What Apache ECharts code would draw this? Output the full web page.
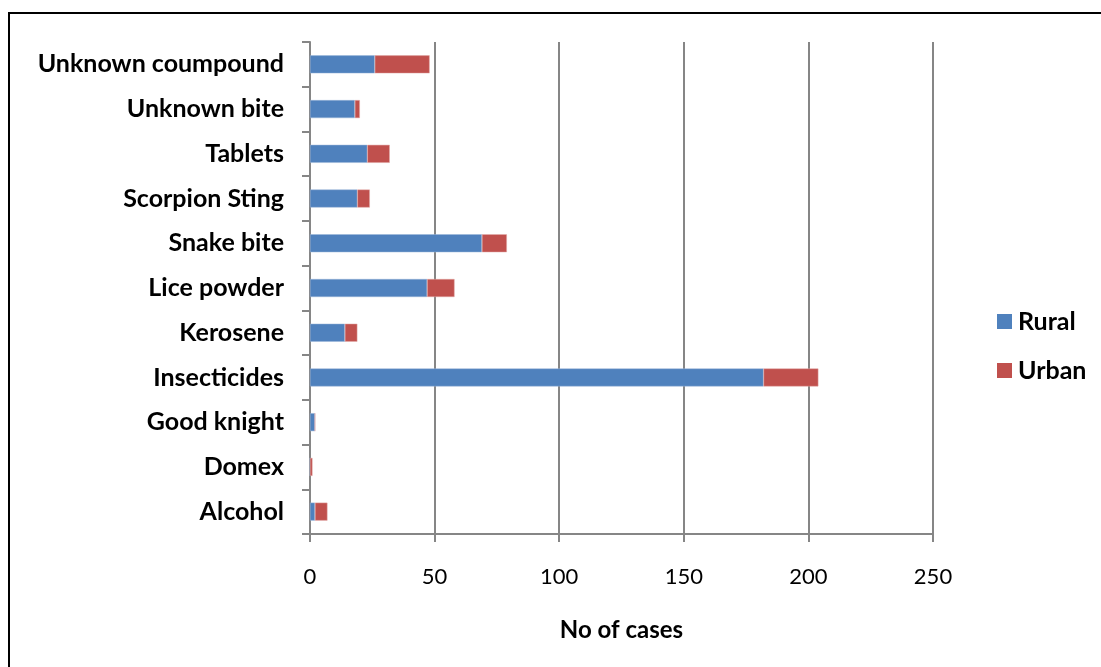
<!DOCTYPE html>
<html>
<head>
<meta charset="utf-8">
<script src="https://cdn.jsdelivr.net/npm/echarts@6/dist/echarts.min.js"></script>
<style>
  html, body { margin: 0; padding: 0; background: #fff; overflow: hidden; }
  #frame { position: absolute; left: 8px; top: 12px; width: 1300px; height: 900px; border: 2px solid #000; box-sizing: border-box; }
  #chart { position: absolute; left: 0; top: 0; width: 1101px; height: 667px; }
</style>
</head>
<body>
<div id="frame"></div>
<div id="chart"></div>
<script>
// Poisoning cases by agent, listed bottom to top
const categories = ['Alcohol', 'Domex', 'Good knight', 'Insecticides', 'Kerosene', 'Lice powder',
  'Snake bite', 'Scorpion Sting', 'Tablets', 'Unknown bite', 'Unknown coumpound'];
const rural = [2, 0, 2, 182, 14, 47, 69, 19, 23, 18, 26];
const urban = [5, 1, 0, 22, 5, 11, 10, 5, 9, 2, 22];
const xTicks = [0, 50, 100, 150, 200, 250];

const chart = echarts.init(document.getElementById('chart'), null, { renderer: 'canvas' });
const font = 'Lato, "DejaVu Sans", sans-serif';

chart.setOption({
  animation: false,
  grid: { left: 310, top: 42, width: 623, height: 492, containLabel: false },
  legend: {
    orient: 'vertical',
    left: 997,
    top: 309,
    padding: 0,
    itemWidth: 15,
    itemHeight: 15,
    itemGap: 24,
    icon: 'rect',
    data: ['Rural', 'Urban'],
    itemStyle: { borderWidth: 0 },
    textStyle: { fontFamily: font, fontWeight: 'bold', fontSize: 25, color: '#000', padding: [0, 0, 0, 1] }
  },
  xAxis: {
    type: 'value',
    min: xTicks[0],
    max: xTicks[xTicks.length - 1],
    interval: 50,
    name: 'No of cases',
    nameLocation: 'middle',
    nameGap: 84,
    nameTextStyle: { fontFamily: font, fontWeight: 'bold', fontSize: 24, color: '#000' },
    axisLine: { show: true, lineStyle: { color: '#868686', width: 2 } },
    axisTick: { show: true, length: 8, lineStyle: { color: '#868686', width: 2 } },
    axisLabel: { margin: 32, fontFamily: font, fontSize: 22, color: '#000' },
    splitLine: { show: true, lineStyle: { color: '#868686', width: 2 } }
  },
  yAxis: {
    type: 'category',
    data: categories,
    axisLine: { show: true, lineStyle: { color: '#868686', width: 2 } },
    axisTick: { show: true, length: 8, lineStyle: { color: '#868686', width: 2 } },
    axisLabel: { margin: 26, fontFamily: font, fontWeight: 'bold', fontSize: 25, color: '#000' },
    splitLine: { show: false }
  },
  series: [
    {
      name: 'Rural', type: 'bar', stack: 'total', data: rural, barWidth: 18,
      itemStyle: { color: '#4F81BD', borderColor: '#9DB6D8', borderWidth: 0.5 }
    },
    {
      name: 'Urban', type: 'bar', stack: 'total', data: urban, barWidth: 18,
      itemStyle: { color: '#C0504D', borderColor: '#E0A8A6', borderWidth: 0.5 }
    }
  ]
});
</script>
</body>
</html>
